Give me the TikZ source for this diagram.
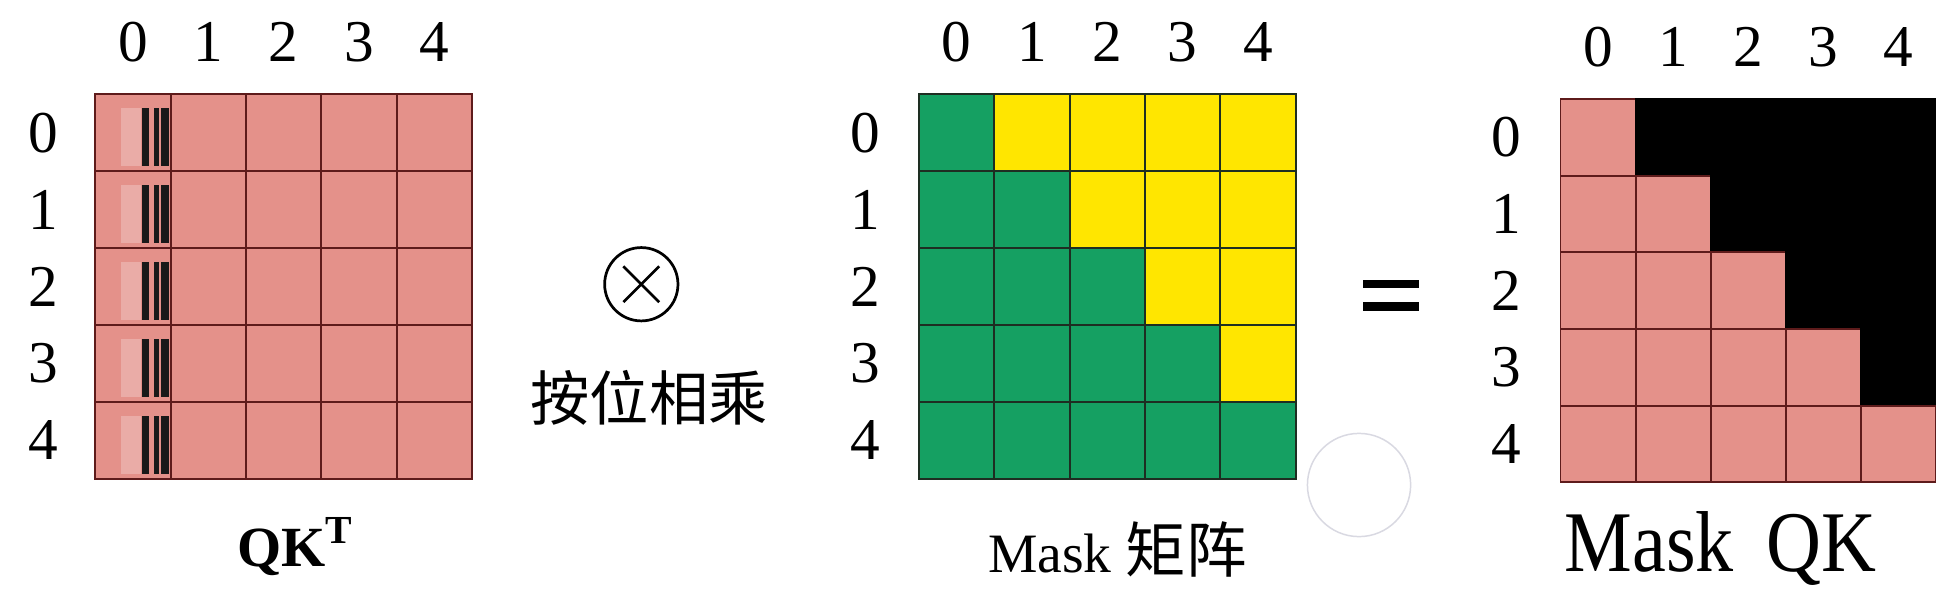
\documentclass[tikz,border=0pt]{standalone}
\usepackage{fontspec}
\setmainfont{Liberation Serif}
\newfontfamily\cjk{Noto Sans CJK SC}
\usepackage{tikz}
\usepackage{xcolor}
\definecolor{qkpink}{HTML}{E4918A}
\definecolor{qkline}{HTML}{5E1B1B}
\definecolor{maskgreen}{HTML}{15A062}
\definecolor{maskyellow}{HTML}{FFE600}
\definecolor{maskline}{HTML}{1E2E22}
\definecolor{ghostring}{HTML}{D9D9E2}
\colorlet{barblack}{black!90}
\tikzstyle{qkcell} =[
    draw=qkline,
    fill=qkpink,
    line width=0.8pt,
    minimum width=30.55pt,
    minimum height=31.1pt,
    inner sep=0pt
    ]
\tikzstyle{lowcell} =[qkcell, draw=maskline, fill=maskgreen]
\tikzstyle{upcell} =[qkcell, draw=maskline, fill=maskyellow]
\tikzstyle{hidecell} =[qkcell, draw=black, fill=black]
\tikzstyle{idx} =[font=\fontsize{24}{24}\selectfont, inner sep=0pt]

\begin{document}
\begin{tikzpicture}[x=0.5pt,y=-0.5pt]
\useasboundingbox[fill=white] (0,0) rectangle (1568,479);

% QK^T
\foreach \i in {0,...,4}{
    \node[idx] (qk-row-\i) at (35,107.5+62.3*\i) {\i};
    \node[idx] (qk-col-\i) at (107.6+61.1*\i,34) {\i};
    \foreach \j in {0,...,4}
        \node[qkcell] (qk-\i-\j) at (107.6+61.1*\j,107.5+62.3*\i) {};
}
\foreach \i in {0,...,4}{
    \fill[white, opacity=0.25] ([shift={(22,12)}]qk-\i-0.north west) rectangle ([shift={(38,-5)}]qk-\i-0.south west);
    \foreach \a/\b in {39/44.5, 48.5/52.6, 54/60.7}
        \fill[barblack] ([shift={(\a,12)}]qk-\i-0.north west) rectangle ([shift={(\b,-5)}]qk-\i-0.south west);
}
\node[font=\fontsize{23}{23}\selectfont\bfseries, inner sep=0pt, anchor=base west] (qkt-label) at (191.6,458.5) {QK\textsuperscript{T}};

% element-wise product
\node[circle, draw, line width=1.1pt, minimum size=29.7pt, inner sep=0pt] (times) at (519.4,230.2) {};
\draw[line width=1.1pt] ([shift={(-14.5,-14.5)}]times.center) -- ([shift={(14.5,14.5)}]times.center);
\draw[line width=1.1pt] ([shift={(-14.5,14.5)}]times.center) -- ([shift={(14.5,-14.5)}]times.center);
\node[font=\cjk\fontsize{24}{24}\selectfont, inner sep=0pt] (elementwise) at (525.8,322.5) {按位相乘};

% mask
\foreach \i in {0,...,4}{
    \node[idx] (mask-row-\i) at (700.6,107.5+62.3*\i) {\i};
    \node[idx] (mask-col-\i) at (774.6+61.1*\i,34) {\i};
    \foreach \j in {0,...,4}{
        \ifnum\j>\i
            \node[upcell] (mask-\i-\j) at (774.6+61.1*\j,107.5+62.3*\i) {};
        \else
            \node[lowcell] (mask-\i-\j) at (774.6+61.1*\j,107.5+62.3*\i) {};
        \fi
    }
}
\node[font=\fontsize{22.5}{22.5}\selectfont, inner sep=0pt, anchor=base west] (mask-label) at (800,463.3) {Mask {\cjk\fontsize{24.5}{24.5}\selectfont 矩阵}};
\node[circle, draw=ghostring, line width=0.6pt, minimum size=41.8pt, inner sep=0pt] (ring) at (1100.7,392.8) {};

% equals
\coordinate (equals) at (1126.8,239.2);
\draw[line width=3.3pt] ([shift={(-22.7,-9)}]equals) -- ([shift={(22.7,-9)}]equals);
\draw[line width=3.3pt] ([shift={(-22.7,9)}]equals) -- ([shift={(22.7,9)}]equals);

% masked QK
\foreach \i in {0,...,4}{
    \node[idx] (out-row-\i) at (1220,111.3+62.06*\i) {\i};
    \node[idx] (out-col-\i) at (1294.4+60.8*\i,38) {\i};
    \foreach \j in {0,...,4}{
        \ifnum\j>\i
            \node[hidecell] (out-\i-\j) at (1294.4+60.8*\j,111.3+62.06*\i) {};
        \else
            \node[qkcell] (out-\i-\j) at (1294.4+60.8*\j,111.3+62.06*\i) {};
        \fi
    }
}
\node[font=\fontsize{35}{35}\selectfont, inner sep=0pt, anchor=base west, xscale=0.88] (out-label) at (1267,463) {Mask\hspace{15pt}QK};
\end{tikzpicture}
\end{document}
